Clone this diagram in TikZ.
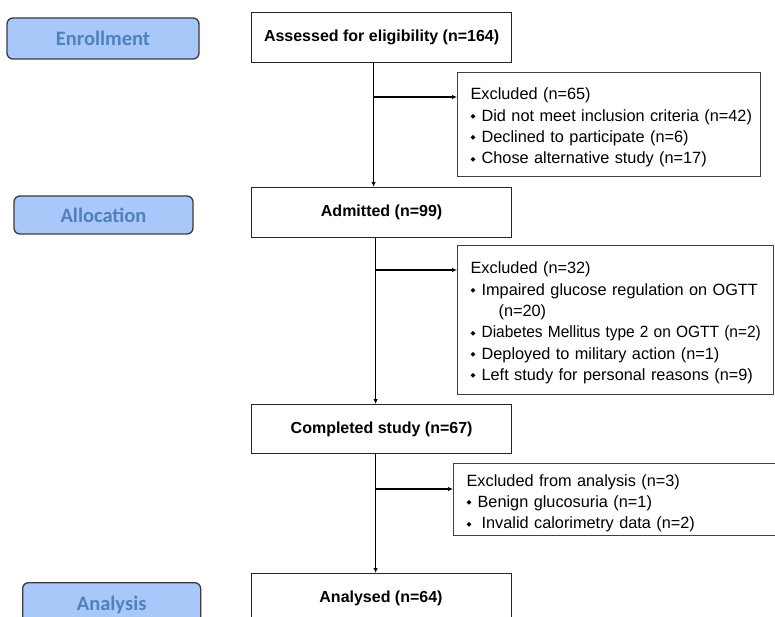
\documentclass[tikz,border=0pt]{standalone}
\usepackage{fontspec}
\setmainfont{Liberation Sans}
\newfontfamily\calfont{Carlito}
\newfontfamily\djfont{DejaVu Sans}
\usetikzlibrary{arrows.meta}
\definecolor{stagefill}{HTML}{A9C8FA}
\definecolor{stagetext}{HTML}{4F81BD}
\definecolor{stageline}{HTML}{3A3A3A}
\newcommand{\bul}{\raisebox{2.5pt}{\djfont\fontsize{6.5}{6.5}\selectfont ◆}\hspace{6pt}}
\newcommand{\topstrut}{\rule{0pt}{17.5pt}}
\tikzset{
  stagebox/.style={draw=stageline, line width=1.3pt, fill=stagefill, rounded corners=6pt,
    text=stagetext, font=\calfont\bfseries\fontsize{20.5}{24}\selectfont, inner sep=0pt},
  mainbox/.style={draw=black!85, line width=1.2pt, font=\bfseries\fontsize{16}{19}\selectfont,
    minimum width=260pt, minimum height=50pt, inner sep=0pt, anchor=north west},
  exbox/.style={draw=black!75, line width=1.2pt, font=\fontsize{16.3}{21.3}\selectfont,
    align=left, anchor=north west, inner sep=0pt},
  arr/.style={line width=1.2pt, -{Latex[length=5pt,width=4.5pt]}}
}
\begin{document}
\begin{tikzpicture}[x=1pt,y=-1pt]
\useasboundingbox (0,0) rectangle (775,617);
% stage boxes
\node[stagebox, minimum width=192pt, minimum height=41pt] (enr) at (103,38.5) {Enrollment};
\node[stagebox, minimum width=179pt, minimum height=38pt] (alloc) at (103.5,215) {Allocation};
\node[stagebox, minimum width=178pt, minimum height=44pt, anchor=north west] (ana) at (22,582) {Analysis};
% main boxes
\node[mainbox] (assess) at (251,12) {Assessed for eligibility (n=164)};
\node[mainbox] (admit) at (251,187) {Admitted (n=99)};
\node[mainbox, minimum height=49pt] (compl) at (251,404) {Completed study (n=67)};
\node[mainbox, minimum height=60pt] (anal) at (251,573) {};
\node (analtext) at (381,598) {\bfseries\fontsize{16}{19}\selectfont Analysed (n=64)};
% exclusion boxes
\node[exbox, minimum width=303pt, minimum height=104pt, text width=303pt] (ex1) at (457,72)
  {\topstrut\hspace*{13pt}Excluded (n=65)\\
   \hspace*{13pt}\bul\mbox{Did not meet inclusion criteria (n=42)}\\
   \hspace*{13pt}\bul Declined to participate (n=6)\\
   \hspace*{13pt}\bul Chose alternative study (n=17)};
\node[exbox, minimum width=316pt, minimum height=149pt, text width=316pt] (ex2) at (457,245)
  {\topstrut\hspace*{13pt}Excluded (n=32)\\
   \hspace*{13pt}\bul\mbox{Impaired glucose regulation on OGTT}\\
   \hspace*{41pt}(n=20)\\
   \hspace*{13pt}\bul\scalebox{0.95}[1]{Diabetes Mellitus type 2 on OGTT (n=2)}\\
   \hspace*{13pt}\bul\mbox{Deployed to military action (n=1)}\\
   \hspace*{13pt}\bul\mbox{Left study for personal reasons (n=9)}};
\node[exbox, minimum width=330pt, minimum height=72pt, text width=330pt] (ex3) at (453,463)
  {\rule{0pt}{19pt}\hspace*{13pt}Excluded from analysis (n=3)\\
   \hspace*{13pt}\bul Benign glucosuria (n=1)\\
   \hspace*{13pt}\bul\hspace{4pt}Invalid calorimetry data (n=2)};
% connectors
\draw[arr] ([xshift=-8pt]assess.south) -- ([xshift=-8pt]admit.north);
\coordinate (b1) at (373,97);
\draw[arr] (b1) -- (b1 -| ex1.west);
\draw[arr] ([xshift=-6pt]admit.south) -- ([xshift=-6pt]compl.north);
\coordinate (b2) at (375,270);
\draw[arr] (b2) -- (b2 -| ex2.west);
\draw[arr] ([xshift=-6pt]compl.south) -- ([xshift=-6pt]anal.north);
\coordinate (b3) at (375,489);
\draw[arr] (b3) -- (b3 -| ex3.west);
\end{tikzpicture}
\end{document}
